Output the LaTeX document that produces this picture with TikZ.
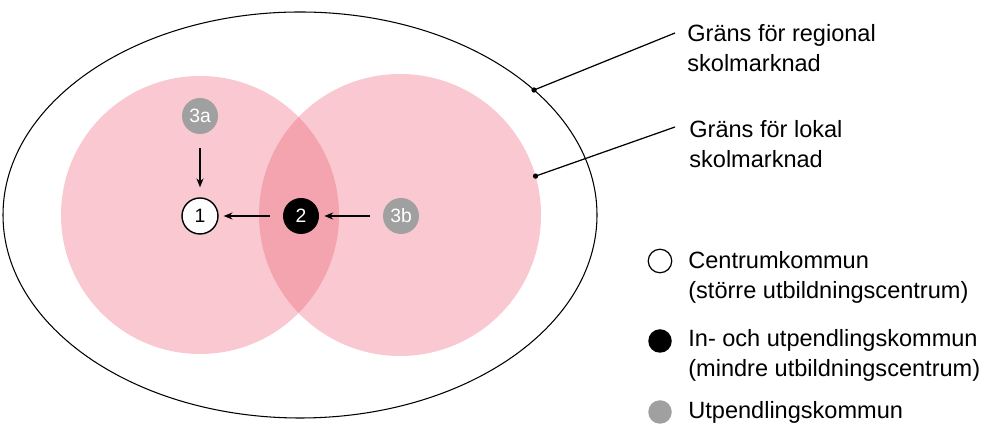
\documentclass[tikz,border=0pt]{standalone}
\usepackage{fontspec}
\setmainfont{Liberation Sans}
\usetikzlibrary{arrows.meta, positioning, calc}
\definecolor{marknad}{HTML}{F9C8D0}
\definecolor{overlap}{HTML}{F4A4AF}
\definecolor{utgrau}{HTML}{A0A0A0}

\begin{document}
\begin{tikzpicture}[
    every node/.style={font=\fontsize{13.4}{17}\selectfont},
    kommun/.style={circle, minimum size=0.72cm, inner sep=0pt,
        font=\fontsize{11}{13}\selectfont},
    centrum/.style={kommun, draw=black, line width=0.8pt, fill=white},
    inut/.style={kommun, fill=black, text=white},
    ut/.style={kommun, fill=utgrau, text=white},
    legend/.style={circle, minimum size=0.47cm, inner sep=0pt},
    label/.style={align=left, anchor=west, inner sep=0pt},
    pil/.style={-{Stealth[length=5pt,width=4pt]}, line width=0.7pt}
]
    \useasboundingbox (0,0) rectangle (19.7,8.5);
    % lokala skolmarknader
    \fill[marknad] (4,4.2) circle (2.78);
    \fill[marknad] (8,4.2) circle (2.82);
    \begin{scope}
        \clip (4,4.2) circle (2.78);
        \fill[overlap] (8,4.2) circle (2.82);
    \end{scope}
    % regional skolmarknad
    \draw[line width=0.6pt] (6,4.2) ellipse (5.94 and 4.06);

    \node[ut] (K3a) at (4,6.18) {3a};
    \node[centrum] (K1) at (4,4.18) {1};
    \node[inut] (K2) at (6.02,4.18) {2};
    \node[ut] (K3b) at (8.02,4.18) {3b};
    \draw[pil, shorten <=0.27cm, shorten >=0.2cm] (K3a) -- (K1);
    \draw[pil, shorten <=0.26cm, shorten >=0.1cm] (K2) -- (K1);
    \draw[pil, shorten <=0.26cm, shorten >=0.1cm] (K3b) -- (K2);

    % gränser
    \coordinate (regdot) at ($(6,4.2)+(38:5.94 and 4.06)$);
    \coordinate (lokdot) at ($(8,4.2)+(16:2.82)$);
    \node[label] (reg) at (13.74,7.54) {Gräns för regional\\skolmarknad};
    \node[label] (lok) at (13.78,5.62) {Gräns för lokal\\skolmarknad};
    \fill (regdot) circle (1.5pt);
    \fill (lokdot) circle (1.5pt);
    \draw[line width=0.7pt] (regdot) -- (13.5,7.84);
    \draw[line width=0.7pt] (lokdot) -- (13.5,5.96);

    % teckenförklaring
    \node[legend, draw=black, line width=0.7pt] (Lc) at (13.2,3.28) {};
    \node[legend, fill=black] (Li) at (13.2,1.68) {};
    \node[legend, fill=utgrau] (Lu) at (13.2,0.26) {};
    \node[label] (Tc) at (13.76,2.96) {Centrumkommun\\(större utbildningscentrum)};
    \node[label] (Ti) at (13.76,1.4) {In- och utpendlingskommun\\(mindre utbildningscentrum)};
    \node[label] (Tu) at (13.76,0.26) {Utpendlingskommun};
\end{tikzpicture}
\end{document}
